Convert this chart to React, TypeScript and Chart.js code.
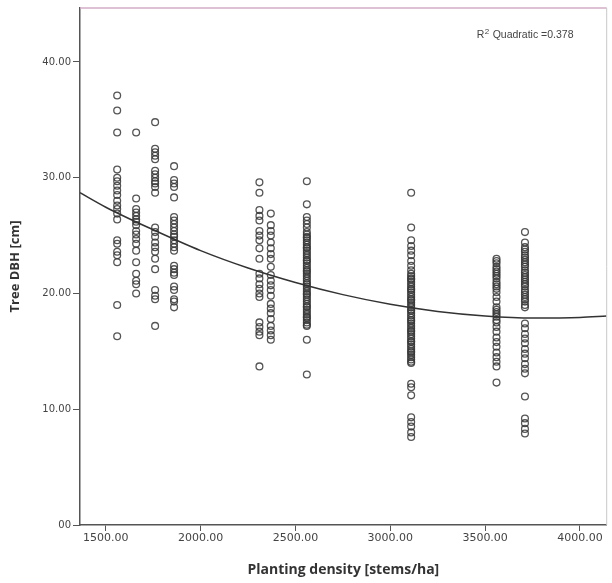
import React, { useEffect, useRef } from "react";
import { Chart, registerables } from "chart.js";

Chart.register(...registerables);

// Planting densities (stems/ha) of each column of trees
const densities = [1560, 1660, 1760, 1860, 2310, 2370, 2560, 3110, 3560, 3710];

// Tree DBH (cm) values per density column
const dbh1560 = [37.1, 35.8, 33.9, 30.7, 30.0, 29.7, 29.3, 28.9, 28.5, 28.0, 27.6, 27.3, 26.9, 26.4, 24.6, 24.3, 23.6, 23.3, 22.7, 19.0, 16.3];
const dbh1660 = [33.9, 28.2, 27.3, 27.0, 26.7, 26.4, 26.2, 25.9, 25.4, 25.1, 24.7, 24.3, 23.7, 22.7, 21.7, 21.1, 20.8, 20.0];
const dbh1760 = [34.8, 32.5, 32.2, 31.9, 31.6, 30.6, 30.3, 30.0, 29.7, 29.5, 29.2, 28.7, 25.7, 25.3, 24.9, 24.4, 24.0, 23.6, 23.0, 22.1, 20.3, 19.8, 19.5, 17.2];
const dbh1860 = [31.0, 29.8, 29.5, 29.2, 28.3, 26.6, 26.3, 26.0, 25.7, 25.4, 25.1, 24.9, 24.6, 24.3, 24.0, 23.7, 22.4, 22.1, 21.8, 21.6, 20.6, 20.3, 19.5, 19.3, 18.8];
const dbh2310 = [29.6, 28.7, 27.2, 26.7, 26.3, 25.4, 25.0, 24.6, 23.9, 23.0, 21.7, 21.3, 20.8, 20.4, 20.0, 19.7, 17.5, 17.1, 16.7, 16.4, 13.7];
const dbh2370 = [26.9, 25.9, 25.4, 25.0, 24.4, 23.9, 23.4, 23.0, 22.3, 21.6, 21.1, 20.7, 20.3, 19.8, 19.1, 18.7, 18.3, 17.8, 17.2, 16.8, 16.4, 16.0];
const dbh2560 = [29.7, 27.7, 26.6, 26.3, 26.0, 25.7, 25.3, 25.1, 24.9, 24.8, 24.6, 24.4, 24.2, 24.0, 23.9, 23.7, 23.5, 23.3, 23.1, 22.9, 22.8, 22.6, 22.4, 22.2, 22.0, 21.9, 21.7, 21.5, 21.3, 21.1, 20.9, 20.8, 20.6, 20.4, 20.2, 20.0, 19.9, 19.7, 19.5, 19.3, 19.1, 18.9, 18.8, 18.6, 18.4, 18.2, 18.0, 17.9, 17.7, 17.5, 17.3, 17.2, 16.0, 13.0];
const dbh3110 = [28.7, 25.7, 24.6, 24.1, 23.7, 23.3, 22.8, 22.4, 22.0, 21.7, 21.5, 21.3, 21.2, 21.0, 20.8, 20.6, 20.4, 20.3, 20.1, 19.9, 19.7, 19.5, 19.4, 19.2, 19.0, 18.8, 18.6, 18.5, 18.3, 18.1, 17.9, 17.7, 17.6, 17.4, 17.2, 17.0, 16.8, 16.7, 16.5, 16.3, 16.1, 15.9, 15.8, 15.6, 15.4, 15.2, 15.0, 14.9, 14.7, 14.5, 14.3, 14.1, 14.0, 12.2, 11.9, 11.2, 9.3, 8.9, 8.5, 8.0, 7.6];
const dbh3560 = [23.0, 22.8, 22.6, 22.3, 22.1, 21.9, 21.7, 21.5, 21.3, 21.0, 20.8, 20.6, 20.4, 20.1, 19.7, 19.3, 18.8, 18.6, 18.4, 18.2, 18.0, 17.7, 17.5, 17.1, 16.7, 16.2, 15.8, 15.4, 14.9, 14.5, 14.1, 13.7, 12.3];
const dbh3710 = [25.3, 24.4, 24.0, 23.8, 23.6, 23.3, 23.1, 22.9, 22.7, 22.5, 22.3, 22.0, 21.8, 21.6, 21.4, 21.2, 21.0, 20.8, 20.6, 20.3, 20.1, 19.9, 19.7, 19.5, 19.3, 19.0, 18.8, 17.4, 17.0, 16.5, 16.1, 15.7, 15.2, 14.8, 14.4, 13.9, 13.5, 13.1, 11.1, 9.2, 8.8, 8.3, 7.9];

const dbhColumns = [dbh1560, dbh1660, dbh1760, dbh1860, dbh2310, dbh2370, dbh2560, dbh3110, dbh3560, dbh3710];

// Quadratic fit curve
const fitX = [1364, 1500, 1750, 2000, 2250, 2500, 2750, 3000, 3250, 3500, 3750, 4000, 4141];
const fitY = [28.7, 27.45, 25.5, 23.7, 22.2, 20.95, 19.9, 19.07, 18.45, 18.06, 17.88, 17.93, 18.06];

// Axis ticks
const xTicks = [1500, 2000, 2500, 3000, 3500, 4000];
const yTicks = [0, 10, 20, 30, 40];

const rSquaredLabel = "0.378";

export default function App() {
  const canvasRef = useRef<HTMLCanvasElement | null>(null);

  useEffect(() => {
    document.body.style.margin = "0";
    const canvas = canvasRef.current;
    if (!canvas) return;

    const points: { x: number; y: number }[] = [];
    densities.forEach((d, i) => {
      dbhColumns[i].forEach((v) => points.push({ x: d, y: v }));
    });
    const curve = fitX.map((x, i) => ({ x, y: fitY[i] }));

    const framePlugin = {
      id: "frame",
      afterDraw(chart: any) {
        const { ctx, chartArea } = chart;
        ctx.save();
        ctx.strokeStyle = "#d3aec4";
        ctx.lineWidth = 1.5;
        ctx.beginPath();
        ctx.moveTo(chartArea.left, chartArea.top);
        ctx.lineTo(chartArea.right, chartArea.top);
        ctx.stroke();
        ctx.strokeStyle = "#c8c8c8";
        ctx.lineWidth = 1;
        ctx.beginPath();
        ctx.moveTo(chartArea.right, chartArea.top);
        ctx.lineTo(chartArea.right, chartArea.bottom);
        ctx.stroke();
        // R² label
        ctx.fillStyle = "#444";
        ctx.textBaseline = "alphabetic";
        ctx.textAlign = "left";
        const x0 = chartArea.right - 130;
        const y0 = chartArea.top + 30;
        ctx.font = "10.5px 'Liberation Sans', sans-serif";
        ctx.fillText("R", x0, y0);
        const rw = ctx.measureText("R").width;
        ctx.font = "8px 'Liberation Sans', sans-serif";
        ctx.fillText("2", x0 + rw + 0.5, y0 - 4);
        const sw = ctx.measureText("2").width;
        ctx.font = "10.5px 'Liberation Sans', sans-serif";
        ctx.fillText(" Quadratic =" + rSquaredLabel, x0 + rw + sw + 1, y0);
        ctx.restore();
      },
    };

    const chart = new Chart(canvas, {
      type: "scatter",
      data: {
        datasets: [
          {
            type: "line",
            data: curve,
            borderColor: "#333",
            borderWidth: 1.5,
            pointRadius: 0,
            fill: false,
            cubicInterpolationMode: "monotone",
            order: 1,
          } as any,
          {
            data: points,
            pointStyle: "circle",
            pointRadius: 3.4,
            borderWidth: 1.3,
            borderColor: "rgba(55,55,55,0.85)",
            backgroundColor: "rgba(0,0,0,0)",
            order: 2,
          },
        ],
      },
      options: {
        animation: false,
        responsive: false,
        maintainAspectRatio: false,
        layout: { padding: { left: 0, right: 2, top: 7, bottom: 0 } },
        plugins: {
          legend: { display: false },
          tooltip: { enabled: false },
        },
        scales: {
          x: {
            type: "linear",
            min: 1364,
            max: 4141,
            afterBuildTicks: (scale: any) => {
              scale.ticks = xTicks.map((v) => ({ value: v }));
            },
            afterFit: (scale: any) => {
              scale.height = 58;
            },
            grid: {
              display: true,
              drawOnChartArea: false,
              drawTicks: true,
              tickLength: 6,
              color: "#555",
              lineWidth: 1,
            },
            border: { display: true, color: "#555", width: 1.5 },
            ticks: {
              autoSkip: false,
              maxRotation: 0,
              padding: 1,
              color: "#444",
              font: { family: "'DejaVu Sans', sans-serif", size: 11 },
              callback: (v: any) => Number(v).toFixed(2),
            },
            title: {
              display: true,
              text: "Planting density [stems/ha]",
              color: "#333",
              font: { family: "'Open Sans', sans-serif", size: 14, weight: "bold" },
              padding: { top: 0, bottom: 5 },
            },
          },
          y: {
            type: "linear",
            min: 0,
            max: 44.66,
            afterBuildTicks: (scale: any) => {
              scale.ticks = yTicks.map((v) => ({ value: v }));
            },
            afterFit: (scale: any) => {
              scale.width = 80;
            },
            grid: {
              display: true,
              drawOnChartArea: false,
              drawTicks: true,
              tickLength: 7,
              color: "#555",
              lineWidth: 1,
            },
            border: { display: true, color: "#555", width: 1.5 },
            ticks: {
              padding: 2,
              color: "#444",
              font: { family: "'DejaVu Sans', sans-serif", size: 10 },
              callback: (v: any) => (Number(v) === 0 ? "00" : Number(v).toFixed(2)),
            },
            title: {
              display: true,
              text: "Tree DBH [cm]",
              color: "#333",
              font: { family: "'Open Sans', sans-serif", size: 13, weight: "bold" },
              padding: { top: 7, bottom: 0 },
            },
          },
        },
      },
      plugins: [framePlugin],
    });

    return () => chart.destroy();
  }, []);

  return (
    <div style={{ width: 612, height: 583, background: "#fff" }}>
      <canvas ref={canvasRef} width={612} height={583} style={{ display: "block" }} />
    </div>
  );
}
